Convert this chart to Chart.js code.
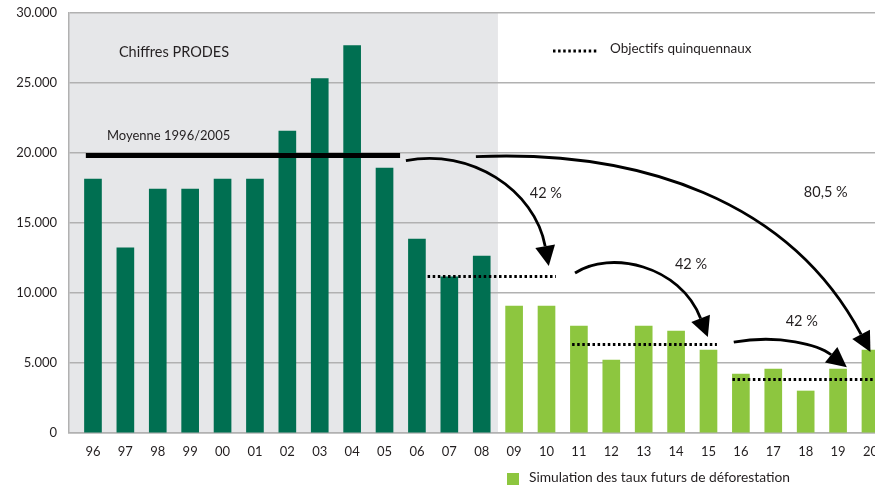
<!DOCTYPE html>
<html>
<head>
<meta charset="utf-8">
<script src="https://cdn.jsdelivr.net/npm/chart.js@4.4.1/dist/chart.umd.min.js"></script>
<style>
  html, body { margin: 0; padding: 0; background: #fff; overflow: hidden; }
  #wrap { position: relative; width: 875px; height: 486px; }
</style>
</head>
<body>
<div id="wrap"><canvas id="chart"></canvas></div>
<script>
// années (axe X)
const years = ['96','97','98','99','00','01','02','03','04','05','06','07','08',
               '09','10','11','12','13','14','15','16','17','18','19','20'];
// chiffres PRODES 1996-2008 (km²)
const prodes = [18140, 13230, 17430, 17430, 18140, 18140, 21570, 25320, 27680, 18930, 13860, 11160, 12640];
// simulation 2009-2020
const simulation = [9060, 9060, 7640, 5200, 7640, 7280, 5930, 4200, 4560, 3000, 4560, 5920];
// moyenne 1996/2005
const moyenne = 19830;
// objectifs quinquennaux : [x début, x fin, valeur]
const objectifs = [[10.33, 14.29, 11170], [14.79, 19.26, 6330], [19.74, 24.5, 3820]];
// ticks Y
const yTicks = [0, 5000, 10000, 15000, 20000, 25000, 30000];

const darkGreen = '#006f51';
const lightGreen = '#8dc63f';
const txt = '#231f20';
const FONT = 'Lato, "Open Sans", sans-serif';

const prodesPts = prodes.map((v, i) => ({ x: i, y: v }));
const simPts = simulation.map((v, i) => ({ x: i + prodes.length, y: v }));

const datasets = [
  { type: 'bar', label: 'Chiffres PRODES', data: prodesPts, backgroundColor: darkGreen,
    barThickness: 17, grouped: false, order: 3 },
  { type: 'bar', label: 'Simulation des taux futurs de déforestation', data: simPts,
    backgroundColor: lightGreen, barThickness: 17, grouped: false, order: 3 },
  { type: 'line', label: 'Moyenne 1996/2005', data: [{ x: -0.22, y: moyenne }, { x: 9.48, y: moyenne }],
    borderColor: '#000', borderWidth: 5, pointRadius: 0, order: 1 }
];
objectifs.forEach(o => datasets.push({
  type: 'line', label: 'Objectifs quinquennaux', data: [{ x: o[0], y: o[2] }, { x: o[1], y: o[2] }],
  borderColor: '#000', borderWidth: 3, borderDash: [2.5, 2.6], pointRadius: 0, order: 1
}));

// flèches (courbes de Bézier, coordonnées en données)
const arrows = [
  [[9.66, 19450], [11.64, 20380], [13.64, 17370], [14.07, 11930]],
  [[11.82, 19740], [16.88, 20240], [21.51, 16650], [24.0, 5780]],
  [[14.88, 11430], [15.96, 13080], [18.12, 12000], [18.98, 6850]],
  [[19.78, 6490], [21.20, 7070], [22.41, 6280], [23.27, 4700]]
];
const arrowLabels = [
  ['42 %', 13.98, 17150], ['80,5 %', 22.62, 17220], ['42 %', 18.46, 12030], ['42 %', 21.88, 8000]
];

const decor = {
  id: 'decor',
  beforeDraw(chart) {
    const { ctx, chartArea: a, scales: { x } } = chart;
    ctx.save();
    ctx.fillStyle = '#e6e7e9';
    ctx.fillRect(a.left, a.top, x.getPixelForValue(12.5) - a.left, a.bottom - a.top);
    ctx.restore();
  },
  afterDraw(chart) {
    const { ctx, scales: { x, y } } = chart;
    const P = p => [x.getPixelForValue(p[0]), y.getPixelForValue(p[1])];
    ctx.save();
    ctx.fillStyle = txt;
    ctx.textBaseline = 'middle';

    ctx.font = '14.5px ' + FONT;
    ctx.textAlign = 'center';
    ctx.fillText('Chiffres PRODES', x.getPixelForValue(2.5), y.getPixelForValue(27190));

    ctx.font = '13px ' + FONT;
    ctx.textAlign = 'left';
    ctx.fillText('Moyenne 1996/2005', x.getPixelForValue(0.43), y.getPixelForValue(21240));

    // légende objectifs
    ctx.strokeStyle = '#000';
    ctx.lineWidth = 3;
    ctx.setLineDash([2.5, 2.6]);
    ctx.beginPath(); ctx.moveTo(553, 51); ctx.lineTo(598, 51); ctx.stroke();
    ctx.setLineDash([]);
    ctx.font = '13.5px ' + FONT;
    ctx.fillText('Objectifs quinquennaux', 610, 49);

    // légende simulation
    ctx.fillStyle = lightGreen;
    ctx.fillRect(507, 473, 12, 12);
    ctx.fillStyle = txt;
    ctx.font = '13.8px ' + FONT;
    ctx.fillText('Simulation des taux futurs de déforestation', 529, 478);

    // flèches
    ctx.strokeStyle = '#000';
    ctx.fillStyle = '#000';
    ctx.lineWidth = 2.8;
    arrows.forEach(ar => {
      const [p0, p1, p2, p3] = ar.map(P);
      const ang = Math.atan2(p3[1] - p2[1], p3[0] - p2[0]);
      const L = 20, W = 10;
      const bx = p3[0] - L * Math.cos(ang), by = p3[1] - L * Math.sin(ang);
      ctx.beginPath();
      ctx.moveTo(p0[0], p0[1]);
      ctx.bezierCurveTo(p1[0], p1[1], p2[0], p2[1], bx, by);
      ctx.stroke();
      ctx.beginPath();
      ctx.moveTo(p3[0], p3[1]);
      ctx.lineTo(bx + W * Math.sin(ang), by - W * Math.cos(ang));
      ctx.lineTo(bx - W * Math.sin(ang), by + W * Math.cos(ang));
      ctx.closePath();
      ctx.fill();
    });

    ctx.fillStyle = txt;
    ctx.font = '14.5px ' + FONT;
    ctx.textAlign = 'center';
    arrowLabels.forEach(l => ctx.fillText(l[0], x.getPixelForValue(l[1]), y.getPixelForValue(l[2])));
    ctx.restore();
  }
};

new Chart(document.getElementById('chart'), {
  data: { datasets },
  options: {
    responsive: true,
    maintainAspectRatio: false,
    animation: false,
    layout: { padding: { top: 13, right: 0, left: 0, bottom: 0 } },
    plugins: { legend: { display: false }, tooltip: { enabled: false } },
    scales: {
      x: {
        type: 'linear', min: -0.74, max: 24.14, offset: false,
        afterBuildTicks: s => { s.ticks = years.map((_, i) => ({ value: i })); },
        afterFit: s => { s.height = 53; s.paddingLeft = 0; s.paddingRight = 0; },
        grid: { display: false, drawTicks: false },
        border: { color: '#b1b1b1', width: 1.5 },
        ticks: { padding: 11, color: txt, font: { family: FONT, size: 13 }, maxRotation: 0, autoSkip: false,
                 callback: v => years[v] }
      },
      y: {
        min: 0, max: 30000,
        afterBuildTicks: s => { s.ticks = yTicks.map(v => ({ value: v })); },
        afterFit: s => { s.width = 69; s.paddingTop = 0; s.paddingBottom = 0; },
        grid: { color: '#b1b1b1', lineWidth: 1.5, drawTicks: false },
        border: { color: '#b1b1b1', width: 1.5 },
        ticks: { padding: 12, color: txt, font: { family: FONT, size: 13 },
                 callback: v => v === 0 ? '0' : v.toLocaleString('de-DE') }
      }
    }
  },
  plugins: [decor]
});
</script>
</body>
</html>
